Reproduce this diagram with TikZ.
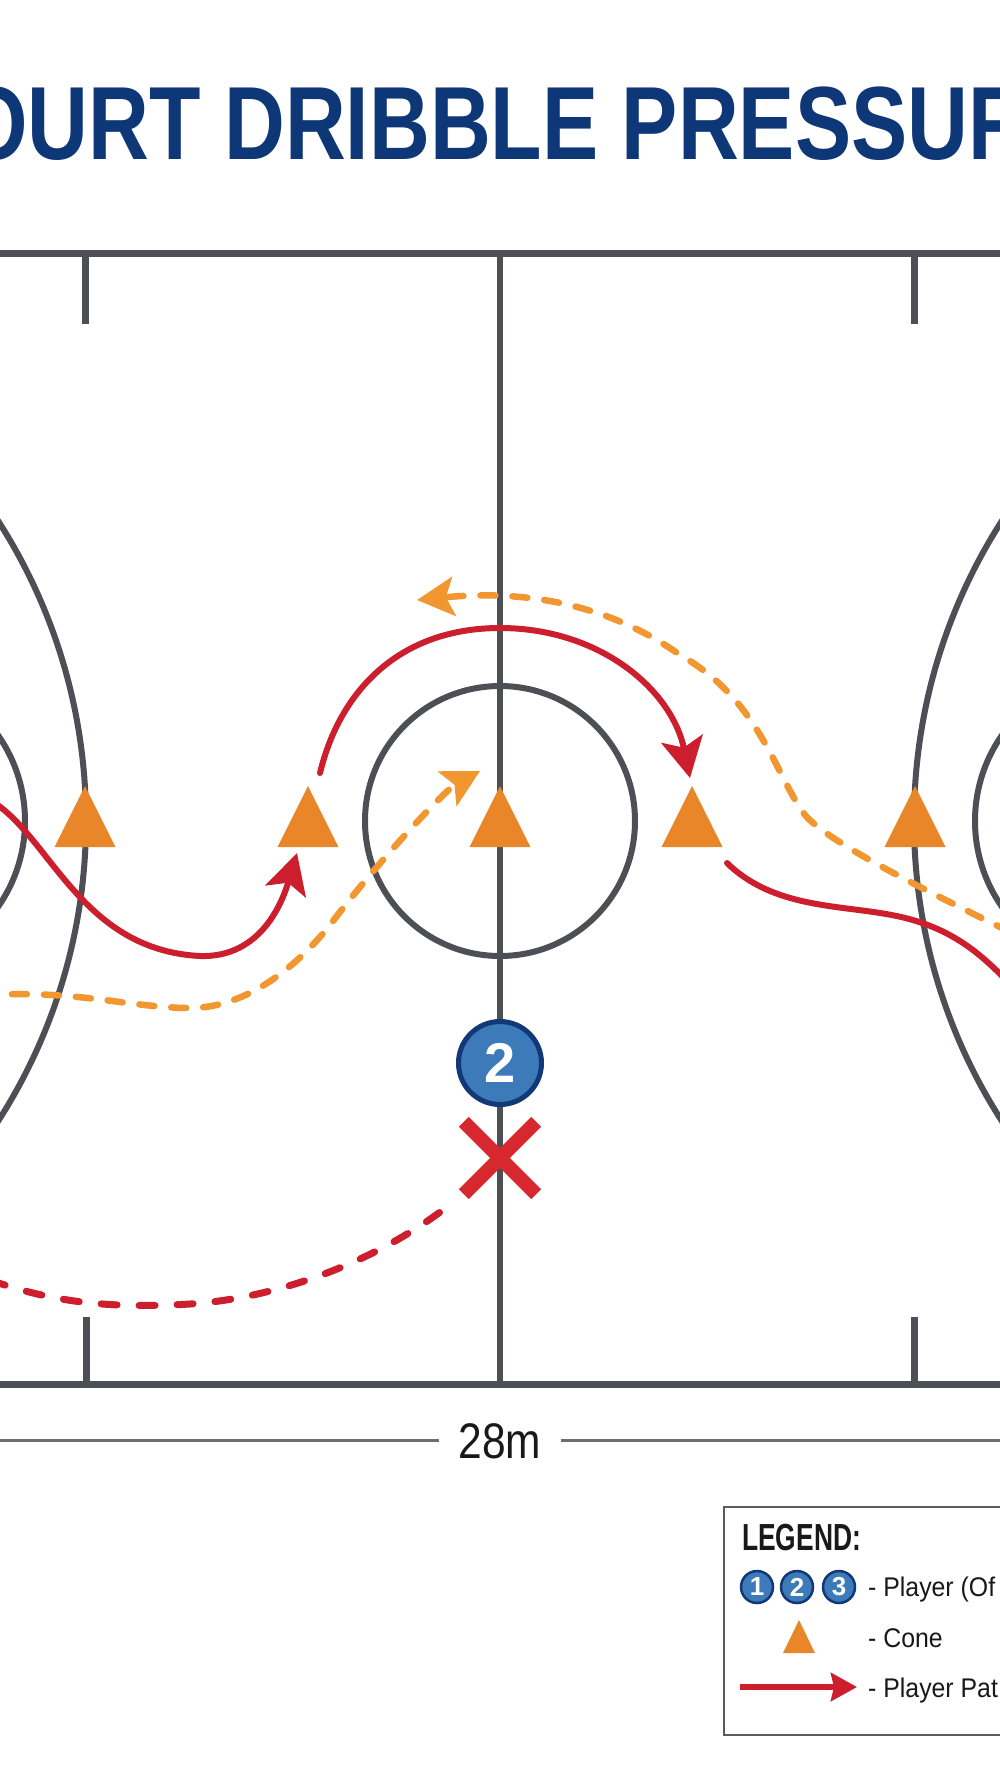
\documentclass[tikz,border=0pt]{standalone}
\usepackage{fontspec}
\setmainfont{Liberation Sans}
\newfontfamily\titlefont[FakeStretch=0.81]{Liberation Sans}
\newfontfamily\legfont[FakeStretch=0.70]{Liberation Sans}
\newfontfamily\labfont[FakeStretch=0.85]{Liberation Sans}
\newfontfamily\legtxtfont[FakeStretch=0.92]{Liberation Sans}
\usetikzlibrary{arrows.meta}
\definecolor{courtgray}{RGB}{76,79,84}
\definecolor{titlenavy}{RGB}{14,55,120}
\definecolor{pathred}{RGB}{204,30,45}
\definecolor{xred}{RGB}{214,40,46}
\definecolor{coneorange}{RGB}{234,134,42}
\definecolor{dashorange}{RGB}{242,150,48}
\definecolor{playerblue}{RGB}{60,122,185}
\definecolor{playerborder}{RGB}{18,56,120}
\definecolor{dimgray}{RGB}{110,110,110}
\definecolor{legendgray}{RGB}{90,90,90}
\definecolor{textdark}{RGB}{25,25,25}
\tikzset{
  court/.style={draw=courtgray, line width=7pt},
  courtarc/.style={draw=courtgray, line width=6pt},
  redpath/.style={draw=pathred, line width=6pt, line cap=round},
  redtip/.style={-{Stealth[length=40pt,width=42pt,inset=9pt]}},
  orangedash/.style={draw=dashorange, line width=6.5pt, line cap=round, dash pattern=on 15pt off 17pt},
  orangetip/.style={-{Stealth[length=37pt,width=39pt,inset=8pt]}},
  reddash/.style={draw=pathred, line width=7pt, line cap=round, dash pattern=on 16pt off 22pt},
  dimline/.style={draw=dimgray, line width=3pt},
  cone/.pic={\fill[coneorange] (-30.5,0) -- (30.5,0) -- (0,-61) -- cycle;},
  legcone/.pic={\fill[coneorange] (-16,0) -- (16,0) -- (0,-33) -- cycle;},
  legplayer/.style={circle, fill=playerblue, draw=playerborder, line width=2.5pt, minimum size=32pt, inner sep=0pt, text=white, font=\bfseries\fontsize{26}{26}\selectfont},
  legtext/.style={anchor=base west, inner sep=0pt, text=textdark, font=\legtxtfont\fontsize{27}{30}\selectfont},
}
\begin{document}
\begin{tikzpicture}[x=1pt,y=-1pt]
\useasboundingbox (0,0) rectangle (1000,1792);
\fill[white] (0,0) rectangle (1000,1792);
\clip (0,0) rectangle (1000,1792);

% title
\node[anchor=base west, inner sep=0pt, text=titlenavy, font=\titlefont\bfseries\fontsize{104}{110}\selectfont] (title) at (-38,159) {OURT DRIBBLE PRESSUR};

% court lines
\draw[court] (-10,253) -- (1010,253);
\draw[court] (-10,1384) -- (1010,1384);
\coordinate (ctop) at (500,253);
\coordinate (cbot) at (500,1384);
\draw[courtarc] (ctop) -- (cbot);
\draw[court] (85,253) -- (85,324);
\draw[court] (914,253) -- (914,324);
\draw[court] (86,1317) -- (86,1384);
\draw[court] (914,1317) -- (914,1384);

% circles and arcs
\coordinate (cc) at (500,821);
\draw[courtarc] (cc) circle[radius=135pt];
\draw[courtarc] (-470,821) circle[radius=556pt];
\draw[courtarc] (1470,821) circle[radius=556pt];
\draw[courtarc] (-125,821) circle[radius=150pt];
\draw[courtarc] (1125,821) circle[radius=150pt];

% cones
\pic (c1) at (85,847) {cone};
\pic (c2) at (308,847) {cone};
\pic (c3) at (500,847) {cone};
\pic (c4) at (692,847) {cone};
\pic (c5) at (915,847) {cone};

% orange dashed paths
\coordinate (o1s) at (-20,996);
\coordinate (o1e) at (480,771);
\draw[orangedash, orangetip] (o1s) .. controls (70,988) and (130,1008) .. (190,1008)
  .. controls (240,1008) and (290,975) .. (330,925)
  .. controls (375,865) and (445,790) .. (o1e);
\coordinate (o2s) at (1010,932);
\coordinate (o2e) at (417,600);
\draw[orangedash, orangetip] (o2s) .. controls (950,902) and (830,845) .. (805,815)
  .. controls (775,775) and (760,700) .. (680,655)
  .. controls (620,612) and (540,588) .. (o2e);

% red solid paths
\coordinate (r1s) at (-10,800);
\coordinate (r1e) at (297,853);
\draw[redpath, redtip] (r1s) .. controls (50,835) and (80,950) .. (200,956)
  .. controls (262,958) and (283,900) .. (r1e);
\coordinate (r2s) at (320,773);
\coordinate (r2e) at (690,778);
\draw[redpath, redtip] (r2s) .. controls (340,690) and (400,628) .. (500,628)
  .. controls (600,628) and (672,690) .. (r2e);
\coordinate (r3s) at (727,863);
\coordinate (r3e) at (1015,990);
\draw[redpath] (r3s) .. controls (770,905) and (830,905) .. (880,913)
  .. controls (940,922) and (975,945) .. (r3e);

% red dashed path
\coordinate (rds) at (-10,1280);
\coordinate (rde) at (452,1203);
\draw[reddash] (rds) .. controls (60,1305) and (120,1308) .. (190,1304)
  .. controls (280,1298) and (380,1260) .. (rde);

% player 2
\node[circle, fill=playerblue, draw=playerborder, line width=5pt, minimum size=83pt, inner sep=0pt, text=white, font=\bfseries\fontsize{56}{56}\selectfont] (p2) at (500,1063) {2};

% X mark
\node[minimum size=72pt, inner sep=0pt] (xmark) at (500,1158) {};
\draw[xred, line width=14pt] (xmark.north west) -- (xmark.south east);
\draw[xred, line width=14pt] (xmark.south west) -- (xmark.north east);

% dimension
\node[anchor=base, inner ysep=0pt, inner xsep=19pt, text=textdark, font=\labfont\fontsize{50}{50}\selectfont] (dim) at (500,1458) {28m};
\coordinate (dimL) at (-10,1440);
\coordinate (dimR) at (1010,1440);
\draw[dimline] (dimL) -- (dim.west |- dimL);
\draw[dimline] (dim.east |- dimR) -- (dimR);

% legend
\draw[legendgray, line width=2pt] (1020,1507) -- (724,1507) -- (724,1735) -- (1020,1735);
\node[anchor=base west, inner sep=0pt, text=textdark, font=\legfont\bfseries\fontsize{37.7}{40}\selectfont] (legtitle) at (742,1550) {LEGEND:};
\node[legplayer] (l1) at (757,1587) {1};
\node[legplayer] (l2) at (797,1587) {2};
\node[legplayer] (l3) at (839,1587) {3};
\node[legtext] (ltplayer) at (868,1596) {- Player (Of};
\pic (lcone) at (799,1653) {legcone};
\node[legtext] (ltcone) at (868,1647) {- Cone};
\coordinate (la1) at (740,1687);
\coordinate (la2) at (857,1687);
\draw[pathred, line width=6pt, -{Stealth[length=26pt,width=28pt,inset=3pt]}] (la1) -- (la2);
\node[legtext] (ltpath) at (868,1697) {- Player Pat};
\end{tikzpicture}
\end{document}
